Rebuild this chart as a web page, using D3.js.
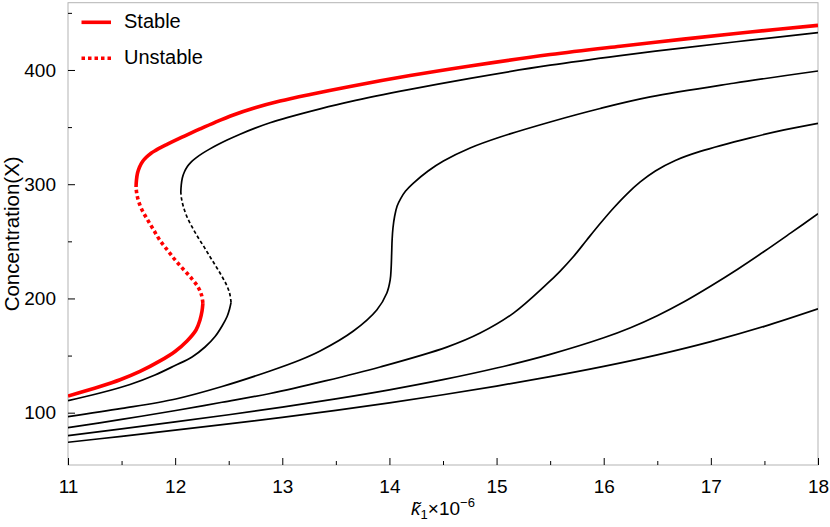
<!DOCTYPE html>
<html>
<head>
<meta charset="utf-8">
<script src="https://cdn.jsdelivr.net/npm/d3@7"></script>
<style>
  html, body { margin: 0; padding: 0; background: #fff; }
  svg { display: block; }
  text { font-family: "Liberation Sans", Arial, Helvetica, sans-serif; fill: #000; }
</style>
</head>
<body>
<svg id="chart" width="830" height="527"></svg>
<script>
// ---- data (k1 x 10^-6, concentration X) ----
const xTicks = [11, 12, 13, 14, 15, 16, 17, 18];
const xMinorTicks = [11.5, 12.5, 13.5, 14.5, 15.5, 16.5, 17.5];
const yTicks = [100, 200, 300, 400];
const yMinorTicks = [150, 250, 350, 450];
const legendLabels = ["Stable", "Unstable"];

// red curve (highlighted): lower stable, unstable middle, upper stable
const redStableLower = [[11.000,114.6],[11.299,122.9],[11.486,128.8],[11.672,136.1],[11.859,145.3],[11.999,153.6],[12.111,162.8],[12.195,172.4],[12.232,181.2],[12.251,189.0],[12.259,196.0]];
const redUnstable = [[12.259,196.0],[12.246,203.0],[12.214,210.0],[12.158,217.0],[12.083,224.9],[12.008,232.8],[11.934,241.6],[11.859,250.7],[11.794,260.8],[11.738,269.6],[11.691,277.4],[11.658,285.3],[11.641,292.3],[11.635,297.6]];
const redStableUpper = [[11.635,297.6],[11.639,303.7],[11.649,309.8],[11.668,315.1],[11.696,319.9],[11.733,323.8],[11.775,327.1],[11.822,329.8],[11.868,332.2],[11.915,334.4],[11.971,337.0],[12.092,342.4],[12.232,348.4],[12.373,354.2],[12.543,360.6],[12.746,366.9],[12.979,372.8],[13.260,378.6],[13.633,385.6],[14.193,395.1],[14.753,403.5],[15.500,413.5],[16.154,420.8],[16.745,427.0],[17.368,433.2],[18.000,439.1]];

// second S-curve (black)
const c2StableLower = [[11.000,110.5],[11.299,117.2],[11.579,124.7],[11.812,133.0],[11.999,141.3],[12.158,148.8],[12.279,157.5],[12.373,166.7],[12.438,175.9],[12.485,184.2],[12.508,190.8],[12.522,196.5]];
const c2Unstable = [[12.522,196.5],[12.508,204.8],[12.475,212.7],[12.424,221.4],[12.373,229.3],[12.321,237.2],[12.270,245.1],[12.214,253.4],[12.158,262.6],[12.111,271.3],[12.078,280.1],[12.060,287.1],[12.053,293.2]];
const c2StableUpper = [[12.053,293.2],[12.057,299.3],[12.067,305.5],[12.086,310.7],[12.114,315.5],[12.151,319.6],[12.195,323.1],[12.251,326.8],[12.317,330.5],[12.391,334.3],[12.485,338.7],[12.606,343.8],[12.746,349.1],[12.886,353.8],[13.045,358.3],[13.353,366.0],[13.633,372.3],[14.193,383.0],[14.753,392.7],[15.500,404.2],[16.154,412.6],[16.745,419.4],[17.368,426.1],[18.000,432.7]];

// monotone curves (black)
const c3 = [[11.000,96.5],[11.504,103.7],[12.006,112.0],[12.438,122.9],[12.886,136.5],[13.166,146.1],[13.353,154.0],[13.664,171.5],[13.882,189.9],[13.976,204.8],[14.007,216.2],[14.016,226.7],[14.021,239.8],[14.025,251.2],[14.033,261.7],[14.049,272.2],[14.072,280.9],[14.105,287.4],[14.151,294.0],[14.224,301.0],[14.361,311.6],[14.504,320.3],[14.753,331.7],[15.034,341.3],[15.500,354.5],[15.967,366.3],[16.434,376.4],[17.212,388.4],[18.000,399.1]];
const c4 = [[11.000,86.9],[11.500,94.1],[12.006,101.9],[12.438,109.1],[12.886,116.8],[13.400,127.8],[13.913,140.0],[14.536,157.4],[14.847,169.7],[15.158,187.2],[15.470,212.7],[15.594,224.0],[15.718,236.7],[15.842,251.2],[15.967,265.6],[16.092,279.2],[16.216,291.4],[16.341,302.0],[16.482,311.6],[16.668,320.8],[16.901,328.7],[17.368,340.6],[17.685,347.5],[18.000,353.3]];
const c5 = [[11.00,79.9],[11.50,85.8],[12.00,91.9],[12.50,98.2],[13.00,104.9],[13.50,112.1],[14.00,120.0],[14.50,128.9],[15.00,139.1],[15.50,151.1],[16.00,165.6],[16.25,174.4],[16.50,184.9],[16.75,197.1],[17.00,210.9],[17.25,225.6],[17.50,241.3],[17.75,257.6],[18.00,274.1]];
const c6 = [[11.0,74.1],[11.5,79.3],[12.0,84.65],[12.5,90.15],[13.0,95.9],[13.5,102.0],[14.0,108.6],[14.5,115.7],[15.0,123.3],[15.5,131.5],[16.0,140.5],[16.5,150.6],[17.0,162.2],[17.5,175.6],[18.0,190.9]];

// ---- layout ----
const svg = d3.select("#chart");
const mLeft = 68, mRight = 818, mTop = 2.7, mBottom = 465;
const x = d3.scaleLinear().domain([11, 18]).range([mLeft, mRight]);
const y = d3.scaleLinear().domain([54.2, 458.9]).range([mBottom, mTop]);

svg.append("defs").append("clipPath").attr("id", "clip")
  .append("rect").attr("x", mLeft).attr("y", mTop).attr("width", mRight - mLeft).attr("height", mBottom - mTop);

// frame
svg.append("rect").attr("x", mLeft).attr("y", mTop).attr("width", mRight - mLeft).attr("height", mBottom - mTop)
  .attr("fill", "none").attr("stroke", "#b3b3b3").attr("stroke-width", 1);

// axes
const xAxis = svg.append("g").attr("transform", `translate(0,${mBottom})`)
  .call(d3.axisBottom(x).tickValues(xTicks).tickSize(-7).tickPadding(15).tickFormat(d3.format("d")));
const xMinor = svg.append("g").attr("transform", `translate(0,${mBottom})`)
  .call(d3.axisBottom(x).tickValues(xMinorTicks).tickSize(-4).tickFormat(""));
const yAxis = svg.append("g").attr("transform", `translate(${mLeft},0)`)
  .call(d3.axisLeft(y).tickValues(yTicks).tickSize(-7).tickPadding(12).tickFormat(d3.format("d")));
const yMinor = svg.append("g").attr("transform", `translate(${mLeft},0)`)
  .call(d3.axisLeft(y).tickValues(yMinorTicks).tickSize(-4).tickFormat(""));
[xAxis, xMinor, yAxis, yMinor].forEach(g => {
  g.select(".domain").remove();
  g.selectAll(".tick line").attr("stroke", "#000").attr("stroke-width", 1);
  g.selectAll("text").style("font-size", "19px").style("font-family", '"Liberation Sans", Arial, sans-serif');
});

// curves
const line = d3.line().x(d => x(d[0])).y(d => y(d[1])).curve(d3.curveCatmullRom.alpha(0.5));
const plot = svg.append("g").attr("clip-path", "url(#clip)");

const blackSolid = [c6, c5, c4, c3, c2StableLower, c2StableUpper];
blackSolid.forEach(d => {
  plot.append("path").attr("d", line(d)).attr("fill", "none").attr("stroke", "#000").attr("stroke-width", 1.7);
});
plot.append("path").attr("d", line(c2Unstable)).attr("fill", "none").attr("stroke", "#000")
  .attr("stroke-width", 1.7).attr("stroke-dasharray", "3.5,2.5");

[redStableLower, redStableUpper].forEach(d => {
  plot.append("path").attr("d", line(d)).attr("fill", "none").attr("stroke", "#ff0000").attr("stroke-width", 3.6);
});
plot.append("path").attr("d", line(redUnstable)).attr("fill", "none").attr("stroke", "#ff0000")
  .attr("stroke-width", 3.6).attr("stroke-dasharray", "3.5,3");

// legend
const legend = svg.append("g");
legend.append("line").attr("x1", 81.5).attr("x2", 111).attr("y1", 22.3).attr("y2", 22.3)
  .attr("stroke", "#ff0000").attr("stroke-width", 3.6);
legend.append("line").attr("x1", 81.5).attr("x2", 111).attr("y1", 58.3).attr("y2", 58.3)
  .attr("stroke", "#ff0000").attr("stroke-width", 3.6).attr("stroke-dasharray", "3.5,3");
legend.append("text").attr("x", 124).attr("y", 27.5).style("font-size", "20px").text(legendLabels[0]);
legend.append("text").attr("x", 124).attr("y", 63.5).style("font-size", "20px").text(legendLabels[1]);

// axis titles
const xt = svg.append("text").attr("x", (mLeft + mRight) / 2).attr("y", 515).attr("text-anchor", "middle").style("font-size", "19px");
xt.append("tspan").style("font-style", "italic").text("k\u0303");
xt.append("tspan").attr("dy", 4).style("font-size", "13px").text("1");
xt.append("tspan").attr("dy", -4).text("\u00d710");
xt.append("tspan").attr("dy", -8).style("font-size", "13px").text("\u22126");

svg.append("text").attr("transform", `translate(19,${(mTop + mBottom) / 2}) rotate(-90)`)
  .attr("text-anchor", "middle").style("font-size", "20.5px").text("Concentration(X)");
</script>
</body>
</html>
